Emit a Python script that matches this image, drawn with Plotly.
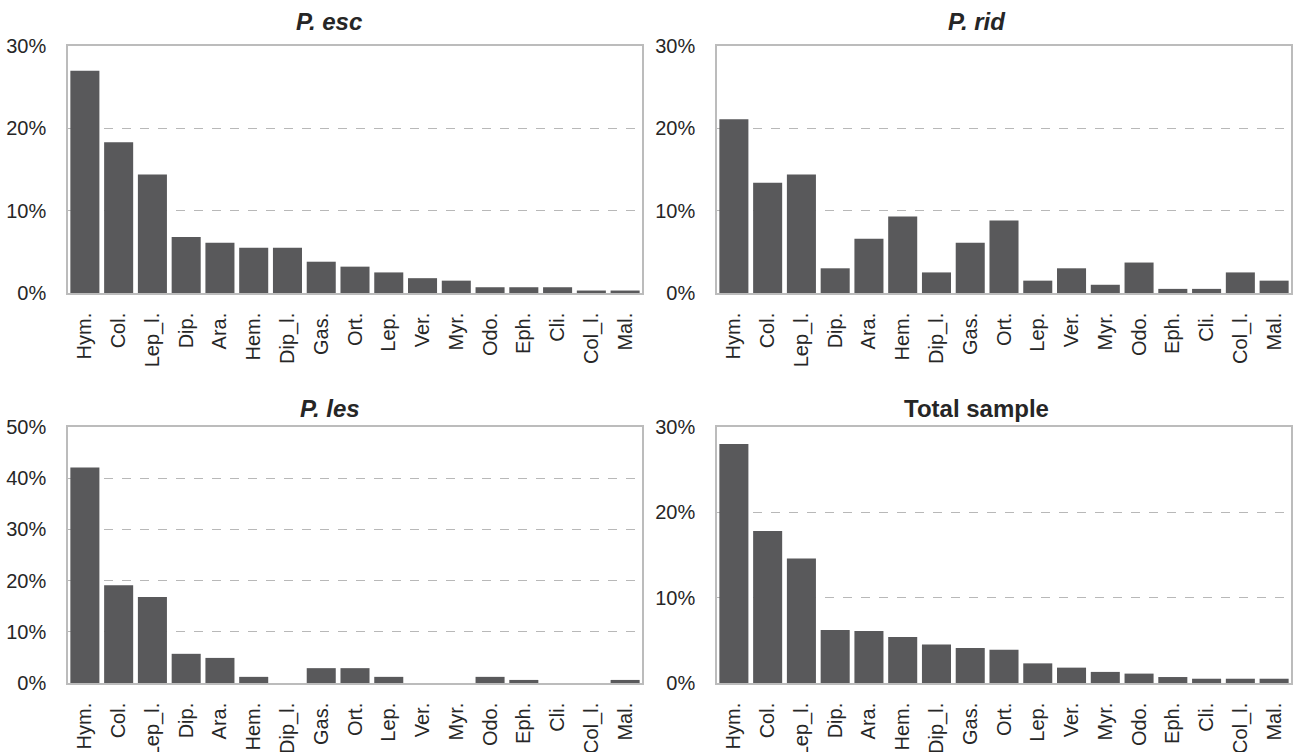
import plotly.graph_objects as go

categories = ["Hym.", "Col.", "Lep_l.", "Dip.", "Ara.", "Hem.", "Dip_l.", "Gas.", "Ort.",
              "Lep.", "Ver.", "Myr.", "Odo.", "Eph.", "Cli.", "Col_l.", "Mal."]

p_esc = [27.0, 18.3, 14.4, 6.8, 6.1, 5.5, 5.5, 3.8, 3.2, 2.5, 1.8, 1.5, 0.7, 0.7, 0.7, 0.3, 0.3]
p_rid = [21.1, 13.4, 14.4, 3.0, 6.6, 9.3, 2.5, 6.1, 8.8, 1.5, 3.0, 1.0, 3.7, 0.5, 0.5, 2.5, 1.5]
p_les = [42.1, 19.1, 16.8, 5.7, 4.9, 1.2, 0.0, 2.9, 2.9, 1.2, 0.0, 0.0, 1.2, 0.6, 0.0, 0.0, 0.6]
total = [28.0, 17.8, 14.6, 6.2, 6.1, 5.4, 4.5, 4.1, 3.9, 2.3, 1.8, 1.3, 1.1, 0.7, 0.5, 0.5, 0.5]

titles = ["<b><i>P. esc</i></b>", "<b><i>P. rid</i></b>", "<b><i>P. les</i></b>", "<b>Total sample</b>"]
series = [p_esc, p_rid, p_les, total]
yranges = [[0, 30], [0, 30], [0, 50], [0, 30]]

W, H = 1294, 752
px_x = [(68, 642), (717, 1291), (68, 642), (717, 1291)]
px_y = [(46, 293), (46, 293), (427, 683), (427, 683)]
title_pos = [(329, 37), (977, 37), (330, 424), (976, 424)]

BAR = "#59595b"
FONT = "Liberation Sans, Arial, sans-serif"
TXT = "#262626"

fig = go.Figure()
layout = {}
annotations = []
for i, vals in enumerate(series):
    n = "" if i == 0 else str(i + 1)
    xd = [px_x[i][0] / W, px_x[i][1] / W]
    yd = [1 - px_y[i][1] / H, 1 - px_y[i][0] / H]
    fig.add_trace(go.Bar(x=categories, y=vals, xaxis="x" + n, yaxis="y" + n,
                         marker=dict(color=BAR, line=dict(width=0)), showlegend=False,
                         hoverinfo="x+y"))
    layout["xaxis" + n] = dict(domain=xd, anchor="y" + n, tickangle=-90, automargin=False,
                               showline=True, mirror=True, linecolor="#bcbcbc", linewidth=1.5,
                               ticks="", ticklabelstandoff=10,
                               tickfont=dict(size=20, color=TXT, family=FONT))
    layout["yaxis" + n] = dict(domain=yd, anchor="x" + n, range=yranges[i], dtick=10,
                               ticksuffix="%", showgrid=True, gridcolor="#b8b8b8", griddash="dash",
                               gridwidth=1, showline=True, mirror=True, linecolor="#bcbcbc",
                               linewidth=1.5, zeroline=False, ticks="", automargin=False,
                               ticklabelstandoff=16,
                               tickfont=dict(size=20, color=TXT, family=FONT))
    tx, ty = title_pos[i]
    annotations.append(dict(text=titles[i], x=tx / W, y=1 - ty / H, xref="paper", yref="paper",
                            xanchor="center", yanchor="bottom", showarrow=False,
                            font=dict(size=24, color=TXT, family=FONT)))

fig.update_layout(**layout)
fig.update_layout(width=W, height=H, margin=dict(l=0, r=0, t=0, b=0, autoexpand=False),
                  paper_bgcolor="white", plot_bgcolor="white", bargap=0.14,
                  annotations=annotations, font=dict(family=FONT, color=TXT))
fig.write_html("out.html", config={"displayModeBar": False},
               post_script="document.body.style.margin='0';")
